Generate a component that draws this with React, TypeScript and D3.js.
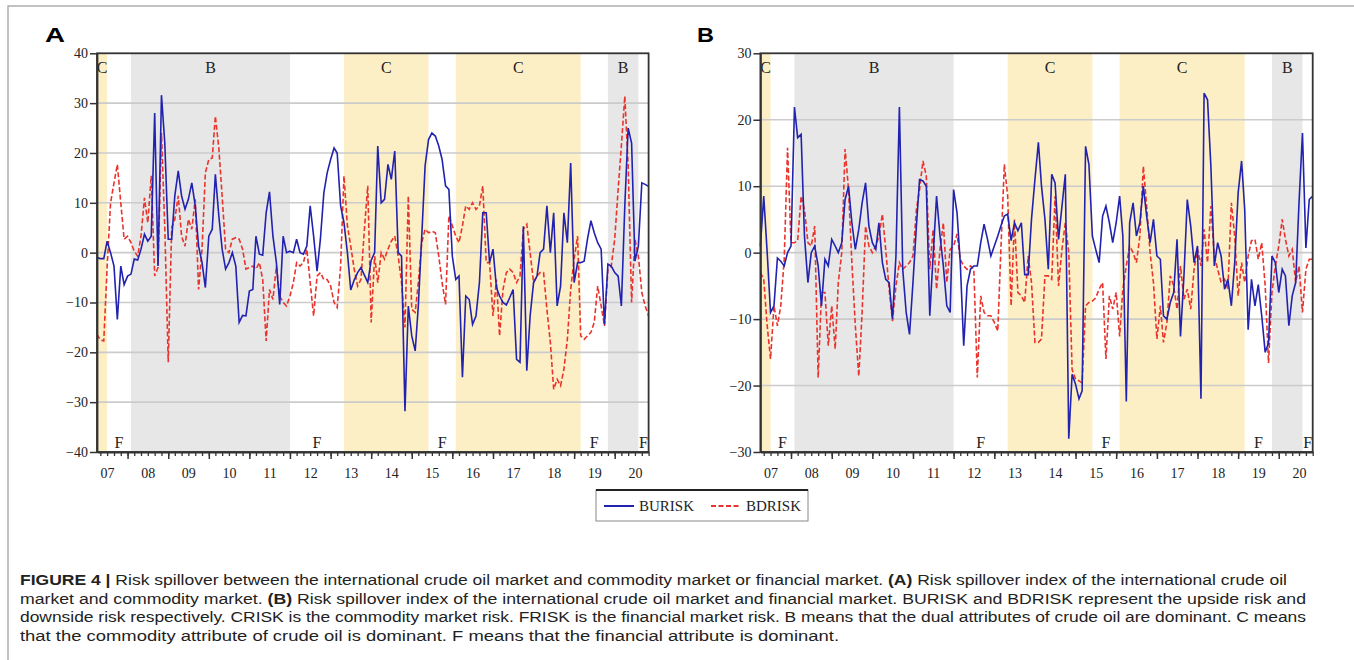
import React, { useEffect, useRef } from "react";
import * as d3 from "d3";

// monthly observations, 2007M04 .. 2020M11
const firstMonth = "2007-04";
const lastMonth = "2020-11";
const yearLabels = ["07", "08", "09", "10", "11", "12", "13", "14", "15", "16", "17", "18", "19", "20"];

// panel A: crude oil vs commodity market
const buriskA = [
  -1, -1.2, -1.2, 2.3, 0, -2.7, -13.4, -2.7, -6.4, -4.7,
  -4.3, -1.3, -1.5, 0.7, 3.7, 2.3, 3.3, 28, -2.7, 31.6,
  22, 2.7, 2.7, 11.4, 16.4, 11.4, 8.7, 10.7, 14, 9.4,
  1.3, -2, -7, 3.3, 4.7, 15.7, 7.4, 0.7, -3.3, -2,
  0, -2.7, -14, -12.6, -12.7, -7.7, -7.4, 3.3, -0.3, -0.5,
  8, 12.2, 3.3, -2, -10.4, 3.3, 0, 0.3, 0, 2.7,
  0, -0.3, 1.3, 9.4, 3.3, -3.7, 2.7, 12, 16, 18.7,
  21, 20, 9.4, 6, 0, -7.5, -5.5, -4, -3, -4.5,
  -6, -1.5, 0, 21.4, 10, 10.7, 17.7, 14.7, 20.4, 0,
  -0.7, -31.8, -10.7, -16.7, -19.7, -10.7, 3.3, 17.4, 22.7, 24,
  23.4, 21.4, 18.7, 13.4, 12.7, -0.7, -5.4, -4.7, -25, -8.7,
  -9.4, -14.4, -12.7, -6, 8, 8, -2, 0.7, -7, -8.7,
  -10, -10.5, -9, -7.4, -21.4, -22, 5.3, -23.7, -12.7, -6,
  -4.7, 0, 0.7, 9.4, 0, 8, -10.7, -6.7, 8, 2,
  18, -6, -2, -2, -1.7, 2.7, 6.4, 4, 2, 0.7,
  -14.4, -2.3, -2.7, -4, -4.7, -10.7, 9.4, 25, 22, -1.7,
  1.3, 14, 13.7, 13.3,
];
const bdriskA = [
  -16.4, -17.5, -17.7, -3, 10, 14, 17.7, 10, 2.7, 3.3,
  2, 0.3, -0.7, 3.3, 11, 6, 15.4, -4.7, -3, 24,
  5, -22, 5, 6.7, 11.4, 3.3, 1.3, 6.7, 4.7, 10.7,
  -7.4, 0.7, 16, 18.7, 19, 27.4, 21, 11.4, 0.7, 0,
  2.7, 3, 2.7, 0.7, -3.3, -3, -2.7, -3.3, -2, -5.4,
  -17.7, -7.4, -9.4, -2.7, -8.7, -10, -10.7, -8.7, -6, -2,
  -2.7, -2, 0.7, -6, -12.7, -4.7, -4, -5.4, -5.4, -6.7,
  -10, -11, -2.7, 15.4, 5.4, 1.3, -3.3, -6.7, -5.4, 4.7,
  13.4, -14, -0.7, -6, 0, -1.3, 0.7, 2.3, 3.3, -0.7,
  -6, -15, 11.4, -11.4, -12, -6, 2, 4.7, 4, 4.3,
  4, -0.7, -6, -10.4, 7.4, 5.4, 3.3, 2, 5.4, 9.4,
  8.7, 10, 8.7, 9.4, 13.4, -2, -2, -12.7, -5.4, -16.7,
  -7.4, -4, -3.3, -4, -6, -4.7, 4.7, 5.7, 0, -6,
  -4.7, -4, -4, -11.4, -18, -27.4, -25.4, -26.7, -23.4, -17.4,
  -7.4, -1.3, 3.3, -16.7, -17.4, -16.7, -16, -14, -6.7, -10.7,
  -14.7, -3.3, -2.7, 2.7, 12.7, 21.4, 31.4, 17.4, -10, 2.7,
  -0.7, -8, -10.7, -12.7,
];

// panel B: crude oil vs financial market
const buriskB = [
  1, 8.5, 0, -9, -8, -0.8, -1.3, -2, 0, 1,
  21.9, 17.3, 17.8, 2.5, -4.5, 0, 1, -2, -8, -1,
  -2, 2, 1, 0, 1.5, 8, 10, 4.5, 0.5, 3.5,
  7.5, 10.5, 4, 1.5, 0.5, 4.5, -1.5, -4, -4.5, -10,
  -0.5, 21.9, -2.5, -9, -12.3, -4.5, 4, 11, 10.8, 10,
  -9.5, -0.5, 8.5, 2.5, -2, -8, -9, 9.5, 6, -1.5,
  -14, -5, -2.5, -2, -2, 1.5, 4.3, 2, -0.5, 1,
  2.5, 4, 5.5, 5.8, 1.8, 4.5, 3.3, 4.5, -3.3, -3.3,
  5, 11, 16.6, 10, 5, -2.5, 11.8, 10.5, 2, 7,
  11.8, -28, -18.3, -19.8, -22, -20.8, 16, 13.3, 2.5, 0.5,
  -1.5, 5.5, 7, 4.5, 1.5, 4.5, 8.5, 2.5, -22.4, 4.5,
  7.5, 2.5, 4.5, 10, 5.5, 1.5, 5, -0.5, -1, -9.5,
  -10, -7.5, -6, 2, -12.6, -3.5, 8, 4, -1.5, 1,
  -22, 24, 23, 13, -2, 1.5, -0.5, -5.5, -4, -8,
  -1.5, 9, 13.8, 6.5, -11.6, -4, -8, -4.8, -9.5, -15,
  -13.6, -0.5, -1.5, -6, -2.5, -3.5, -11, -6.5, -4.5, 7.5,
  18, 0.7, 8, 8.5,
];
const bdriskB = [
  -3, -4, -11, -16, -8, -11, -8, -1, 15.8, 1.5,
  1.5, 1.8, 8.5, 6.5, 1.5, 1, 4, -18.8, -6, -6,
  -14, -8, -14.5, -4.5, 0, 15.6, 9.5, -1.5, -11, -18.6,
  -9, 4, 1, 0, 1, 2.5, 5.8, 0.5, -5.5, -10.3,
  -5, -1.5, -2.5, -2, -1.5, -0.5, 6.5, 9.5, 13.8, 11.5,
  -2.5, 3.5, -5.5, 0.5, 4.5, -4.5, 0.5, 1, 2.8, -1,
  -2, -2.5, -2, -2.5, -18.8, -6.5, -9, -9.5, -9.5, -10.5,
  -11.8, 0.5, 13.3, 8.5, -8, 5, -6, -6.5, -7.5, -0.5,
  -4.5, -13.5, -13.5, -13, -3.5, -3.5, -4, 8.5, -5, 0.5,
  4.5, 0, -17.6, -19, -19.3, -19.6, -8, -7.5, -7.3, -6.8,
  -5.5, -4.5, -16, -6.5, -8.5, -6, -12.6, -5.5, -2, 1,
  0, -1.5, 2.5, 13, 7, 0, -4.5, -13, -8, -13.5,
  -10.5, -3.5, -5, -8.5, -2, -7, -5.5, -8.5, -2.5, 0.5,
  -2, 3.5, -1.5, 7, -0.5, -2.5, -4.5, -4, -5.5, 7.5,
  2.5, -6.5, -1.5, -4.5, -0.5, 1.8, 2, -1, 1.5, -5,
  -16.6, -6, -2, 1, 5, 2, -0.5, 0.5, -4.5, -2,
  -9, -2.5, -1, -1,
];

// dominant-attribute regimes (B dual, C commodity, F financial)
const regimeLabels = ["C", "F", "B", "F", "C", "F", "C", "F", "B", "F"];
const regimeStarts = ["2007-04", "2007-07", "2008-02", "2012-01", "2013-05", "2015-06", "2016-02", "2019-03", "2019-11", "2020-08"];
const regimeEnds = ["2007-07", "2008-02", "2012-01", "2013-05", "2015-06", "2016-02", "2019-03", "2019-11", "2020-08", "2020-11"];

const captionLines = [
  [["FIGURE 4 | ", true], ["Risk spillover between the international crude oil market and commodity market or financial market. ", false], ["(A)", true], [" Risk spillover index of the international crude oil", false]],
  [["market and commodity market. ", false], ["(B)", true], [" Risk spillover index of the international crude oil market and financial market. BURISK and BDRISK represent the upside risk and", false]],
  [["downside risk respectively. CRISK is the commodity market risk. FRISK is the financial market risk. B means that the dual attributes of crude oil are dominant. C means", false]],
  [["that the commodity attribute of crude oil is dominant. F means that the financial attribute is dominant.", false]],
];

const serif = "'Liberation Serif', 'Times New Roman', serif";
const sans = "'Liberation Sans', Arial, sans-serif";
const blue = "#2222b0";
const red = "#e8342c";

export default function App() {
  const ref = useRef<SVGSVGElement>(null);

  useEffect(() => {
    const svg = d3.select(ref.current);
    svg.selectAll("*").remove();
    const parse = d3.timeParse("%Y-%m");
    const start = parse(firstMonth)!;
    const end = parse(lastMonth)!;
    const dates = d3.timeMonth.range(start, d3.timeMonth.offset(end, 1));

    // outer figure border
    svg.append("rect").attr("x", 8).attr("y", 6).attr("width", 1360).attr("height", 720)
      .attr("fill", "none").attr("stroke", "#9a9a9a").attr("stroke-width", 1.2);

    const panels = [
      { tag: "A", tagX: 45, left: 97, right: 648.6, yDomain: [-40, 40], up: buriskA, down: bdriskA },
      { tag: "B", tagX: 697, left: 760.4, right: 1312.7, yDomain: [-30, 30], up: buriskB, down: bdriskB },
    ];
    const top = 53.3, bottom = 452;

    panels.forEach((p) => {
      const g = svg.append("g");
      const x = d3.scaleTime().domain([start, end]).range([p.left, p.right]);
      const y = d3.scaleLinear().domain(p.yDomain).range([bottom, top]);

      g.append("text").attr("x", p.tagX).attr("y", 42).text(p.tag)
        .attr("font-family", sans).attr("font-weight", "bold").attr("font-size", 21)
        .attr("textLength", p.tag === "A" ? 20 : 17).attr("lengthAdjust", "spacingAndGlyphs");

      // regime shading
      regimeLabels.forEach((lab, i) => {
        const x0 = x(parse(regimeStarts[i])!), x1 = x(parse(regimeEnds[i])!);
        if (lab !== "F") {
          g.append("rect").attr("x", x0).attr("y", top).attr("width", x1 - x0).attr("height", bottom - top)
            .attr("fill", lab === "C" ? "#fcefc6" : "#e7e7e7");
        }
      });

      // grid
      const ticks = d3.range(p.yDomain[0], p.yDomain[1] + 1, 10);
      g.selectAll(".grid").data(ticks.slice(1, -1)).enter().append("line")
        .attr("x1", p.left).attr("x2", p.right)
        .attr("y1", (d) => y(d)).attr("y2", (d) => y(d))
        .attr("stroke", "#cbcbcb").attr("stroke-width", 1.6);

      // regime letters
      regimeLabels.forEach((lab, i) => {
        const x0 = x(parse(regimeStarts[i])!), x1 = x(parse(regimeEnds[i])!);
        g.append("text").attr("x", (x0 + x1) / 2).attr("y", lab === "F" ? 448 : 72.5)
          .attr("text-anchor", "middle").attr("font-family", serif).attr("font-size", 16)
          .attr("fill", "#222").text(lab);
      });

      const line = d3.line<number>().x((d, i) => x(dates[i])).y((d) => y(d));
      g.append("path").datum(p.down).attr("d", line).attr("fill", "none")
        .attr("stroke", red).attr("stroke-width", 1.6).attr("stroke-dasharray", "5,2.5");
      g.append("path").datum(p.up).attr("d", line).attr("fill", "none")
        .attr("stroke", blue).attr("stroke-width", 1.6);

      // frame
      g.append("rect").attr("x", p.left).attr("y", top).attr("width", p.right - p.left).attr("height", bottom - top)
        .attr("fill", "none").attr("stroke", "#333").attr("stroke-width", 1.8);

      // y axis
      const ya = g.append("g").attr("transform", `translate(${p.left},0)`)
        .call(d3.axisLeft(y).tickValues(ticks).tickSize(7).tickPadding(2).tickSizeOuter(0));
      ya.select(".domain").attr("stroke", "#333").attr("stroke-width", 1.8);
      ya.selectAll("line").attr("stroke", "#333").attr("stroke-width", 1.5);
      ya.selectAll("text").attr("font-family", serif).attr("font-size", 14).attr("fill", "#222");

      // x axis: bimonthly minor ticks, yearly major ticks, labels mid-year
      const minor = d3.timeMonth.every(2)!.range(start, d3.timeMonth.offset(end, 1));
      const xm = g.append("g").attr("transform", `translate(0,${bottom})`)
        .call(d3.axisBottom(x).tickValues(minor).tickSize(4).tickFormat(() => "").tickSizeOuter(0));
      xm.select(".domain").attr("stroke", "#333").attr("stroke-width", 1.8);
      xm.selectAll("line").attr("stroke", "#333").attr("stroke-width", 1.3);
      const major = d3.timeYear.range(d3.timeYear.ceil(start), end);
      const xM = g.append("g").attr("transform", `translate(0,${bottom})`)
        .call(d3.axisBottom(x).tickValues(major).tickSize(7).tickFormat(() => "").tickSizeOuter(0));
      xM.select(".domain").remove();
      xM.selectAll("line").attr("stroke", "#333").attr("stroke-width", 1.5);
      const mids = yearLabels.map((yl) => new Date(2000 + +yl, 6, 1));
      const xl = g.append("g").attr("transform", `translate(0,${bottom})`)
        .call(d3.axisBottom(x).tickValues(mids).tickSize(0).tickPadding(16)
          .tickFormat((d, i) => yearLabels[i]));
      xl.select(".domain").remove();
      xl.selectAll("text").attr("font-family", serif).attr("font-size", 14).attr("fill", "#222");
    });

    // legend
    const lg = svg.append("g");
    lg.append("rect").attr("x", 596).attr("y", 490).attr("width", 212).attr("height", 31)
      .attr("fill", "#fff").attr("stroke", "#888").attr("stroke-width", 1);
    lg.append("line").attr("x1", 596).attr("x2", 808).attr("y1", 490).attr("y2", 490)
      .attr("stroke", "#222").attr("stroke-width", 2.2);
    const items = [["BURISK", blue, null, 604], ["BDRISK", red, "5,2.5", 711]] as const;
    items.forEach(([name, col, dash, lx]) => {
      lg.append("line").attr("x1", lx).attr("x2", lx + 30).attr("y1", 506).attr("y2", 506)
        .attr("stroke", col).attr("stroke-width", 2).attr("stroke-dasharray", dash ?? null);
      lg.append("text").attr("x", lx + 35).attr("y", 511).text(name)
        .attr("font-family", serif).attr("font-size", 15).attr("fill", "#222");
    });

    // caption
    const capWidths = [1267, 1286, 1286, 819];
    const capBase = [585, 603.5, 622, 640.5];
    captionLines.forEach((parts, i) => {
      const t = svg.append("text").attr("x", 20).attr("y", capBase[i])
        .attr("font-family", sans).attr("font-size", 14).attr("fill", "#222")
        .attr("textLength", capWidths[i]).attr("lengthAdjust", "spacingAndGlyphs");
      parts.forEach(([s, b]) => {
        t.append("tspan").attr("font-weight", b ? "bold" : "normal").text(s as string);
      });
    });
  }, []);

  return (
    <svg ref={ref} width={1354} height={660}
      style={{ position: "absolute", left: 0, top: 0, background: "#fff" }} />
  );
}
